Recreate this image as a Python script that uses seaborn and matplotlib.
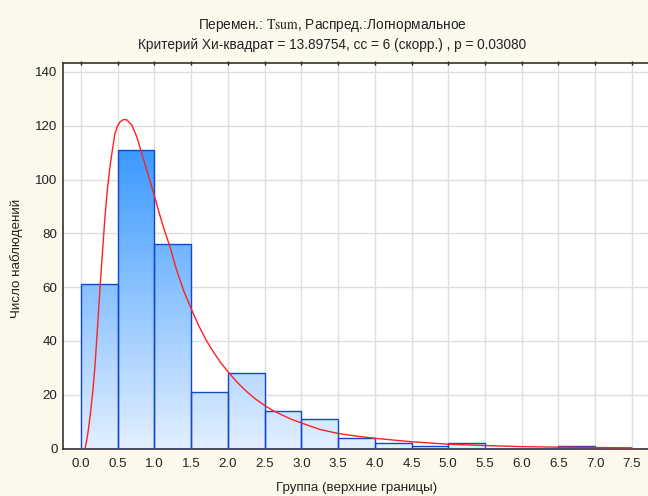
import numpy as np
import matplotlib
matplotlib.use("Agg")
import matplotlib.pyplot as plt
from matplotlib.colors import LinearSegmentedColormap
import seaborn as sns

# данные
bin_edges = [0.0, 0.5, 1.0, 1.5, 2.0, 2.5, 3.0, 3.5, 4.0, 4.5, 5.0, 5.5, 6.0, 6.5, 7.0, 7.5]
counts = [61, 111, 76, 21, 28, 14, 11, 4, 2, 1, 2, 0, 0, 1, 0]

curve_x = [0.056, 0.09, 0.124, 0.16, 0.19, 0.225, 0.26, 0.295, 0.327, 0.36, 0.395, 0.43,
           0.463, 0.50, 0.531, 0.58, 0.622, 0.69, 0.758, 0.826, 0.894, 0.95, 1.007, 1.06,
           1.12, 1.21, 1.30, 1.40, 1.50, 1.60, 1.70, 1.80, 1.90, 2.0, 2.12, 2.25, 2.37,
           2.50, 2.62, 2.75, 2.87, 3.0, 3.25, 3.5, 3.75, 4.0, 4.5, 5.0, 5.5, 6.0, 6.5,
           7.0, 7.5]
curve_y = [0.0, 5.0, 12.0, 21.0, 30.6, 45.0, 60.3, 74.0, 86.3, 96.5, 104.8, 111.5,
           117.2, 120.0, 121.4, 122.3, 122.2, 120.3, 116.0, 109.8, 103.6, 98.5, 93.2, 88.0,
           82.5, 75.1, 66.5, 58.5, 52.0, 45.8, 40.5, 36.0, 32.0, 28.6, 24.8, 21.3, 18.5,
           16.0, 14.0, 12.3, 10.8, 9.5, 7.1, 5.6, 4.6, 3.8, 2.5, 1.6, 1.1, 0.7, 0.5,
           0.35, 0.25]

x_ticks = [0.0, 0.5, 1.0, 1.5, 2.0, 2.5, 3.0, 3.5, 4.0, 4.5, 5.0, 5.5, 6.0, 6.5, 7.0, 7.5]
y_ticks = [0, 20, 40, 60, 80, 100, 120, 140]

title_1 = "Перемен.: $\\mathrm{Tsum}$, Распред.:Логнормальное"
title_2 = "Критерий Хи-квадрат = 13.89754, сс = 6 (скорр.) , p = 0.03080"
x_label = "Группа (верхние границы)"
y_label = "Число наблюдений"

BG = "#fdf8ec"
EDGE = "#1048d0"
TXT = "#222222"

sns.set_theme(style="whitegrid")
plt.rcParams["font.family"] = ["Liberation Sans", "DejaVu Sans"]
plt.rcParams["mathtext.fontset"] = "stix"

fig = plt.figure(figsize=(6.48, 4.96), dpi=100, facecolor=BG)
ax = fig.add_axes([63 / 648, 47.5 / 496, 1 - 63 / 648, 386 / 496])
ax.set_facecolor("white")

centers = [(a + b) / 2 for a, b in zip(bin_edges[:-1], bin_edges[1:])]
sns.histplot(x=centers, weights=counts, bins=bin_edges, ax=ax,
             facecolor="none", edgecolor=EDGE, linewidth=1.0, zorder=3)

# градиентная заливка столбцов
cmap = LinearSegmentedColormap.from_list("bars", ["#e2efff", "#8ec4ff", "#3a99ff"])
for p in ax.patches:
    x0, w, h = p.get_x(), p.get_width(), p.get_height()
    if h <= 0:
        continue
    grad = np.linspace(0, h, 100).reshape(-1, 1)
    im = ax.imshow(grad, extent=[x0, x0 + w, 0, h], origin="lower", aspect="auto",
                   cmap=cmap, vmin=0, vmax=112, zorder=2)
    im.set_clip_path(p)

sns.lineplot(x=curve_x, y=curve_y, ax=ax, color="#ff2020", linewidth=1.0,
             estimator=None, sort=False, zorder=4)

ax.set_xlim(-0.245, 7.72)
ax.set_ylim(0, 143.5)
ax.set_xticks(x_ticks)
ax.set_xticklabels([f"{t:.1f}" for t in x_ticks])
ax.set_yticks(y_ticks)
ax.grid(True, color="#dedede", linewidth=1.0)
ax.set_axisbelow(True)
for side in ["left", "bottom", "top"]:
    ax.spines[side].set_visible(True)
    ax.spines[side].set_color("#333333")
    ax.spines[side].set_linewidth(1.2)
ax.spines["right"].set_visible(False)
ax.tick_params(axis="both", labelsize=9.6, colors=TXT, length=3, width=1)
ax.tick_params(axis="y", direction="in", pad=4)
ax.tick_params(axis="x", direction="inout", pad=5, top=True)
ax.set_xlabel("")
ax.set_ylabel("")

fig.text(332 / 648, 1 - 25 / 496, title_1, ha="center", va="center", fontsize=9.8, color=TXT)
fig.text(332 / 648, 1 - 45 / 496, title_2, ha="center", va="center", fontsize=9.8, color=TXT)
fig.text(357 / 648, 1 - 488 / 496, x_label, ha="center", va="center", fontsize=9.6, color=TXT)
fig.text(17 / 648, 1 - 258 / 496, y_label, ha="center", va="center", rotation=90,
         fontsize=9.6, color=TXT)

fig.savefig("out.png", dpi=100, facecolor=BG)
